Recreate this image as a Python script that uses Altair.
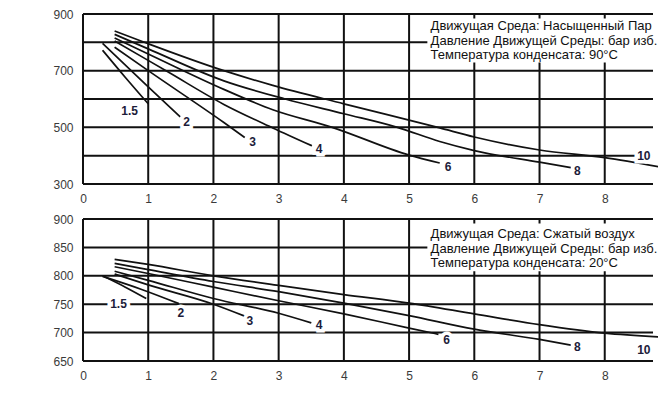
import altair as alt
import pandas as pd

FONT = "Liberation Sans"
XMAX = 8.74

# ---------------- Top panel: saturated steam, condensate 90°C ----------------
steam_curves = ["1.5", "2", "3", "4", "6", "8", "10"]
steam_x = {
    "1.5": [0.30, 0.65, 1.00],
    "2":   [0.30, 1.00, 1.49],
    "3":   [0.485, 1.00, 2.16, 2.48],
    "4":   [0.485, 1.30, 2.16, 2.91, 3.51],
    "6":   [0.485, 1.00, 2.16, 2.91, 3.82, 5.00, 5.47],
    "8":   [0.485, 1.00, 2.16, 3.10, 4.00, 4.82, 5.47, 6.00, 7.00, 7.48],
    "10":  [0.485, 1.00, 2.16, 2.91, 4.00, 5.47, 6.00, 7.00, 8.00, 8.89],
}
steam_y = {
    "1.5": [772, 676, 583],
    "2":   [796, 643, 537],
    "3":   [783, 700, 517, 464],
    "4":   [805, 696, 581, 498, 435],
    "6":   [815, 759, 634, 562, 500, 402, 374],
    "8":   [828, 777, 664, 600, 548, 500, 450, 418, 377, 358],
    "10":  [840, 795, 700, 648, 583, 498, 466, 420, 393, 358],
}
steam_label_x = [0.715, 1.59, 2.60, 3.62, 5.60, 7.58, 8.60]
steam_label_y = [557, 520, 449, 422, 360, 347, 400]
steam_text = ["Движущая Среда: Насыщенный Пар",
              "Давление Движущей Среды: бар изб.",
              "Температура конденсата: 90°C"]
steam_text_y = [858, 806, 755]
steam_box = [5.28, XMAX, 884, 729]
steam_y_ticks = [300, 400, 500, 600, 700, 800, 900]

# ---------------- Bottom panel: compressed air, condensate 20°C ----------------
air_curves = ["1.5", "2", "3", "4", "6", "8", "10"]
air_x = {
    "1.5": [0.30, 0.65, 0.97],
    "2":   [0.30, 0.90, 1.47],
    "3":   [0.485, 1.00, 2.00, 2.48],
    "4":   [0.485, 1.00, 2.00, 3.00, 3.50],
    "6":   [0.485, 1.00, 2.00, 3.00, 4.00, 5.00, 5.45],
    "8":   [0.485, 1.00, 2.00, 3.00, 4.00, 5.00, 6.00, 7.00, 7.48],
    "10":  [0.485, 1.00, 2.00, 3.00, 4.00, 5.00, 6.00, 7.00, 8.00, 8.89],
}
air_y = {
    "1.5": [800, 780, 760],
    "2":   [799, 776, 751],
    "3":   [803, 784, 750, 729],
    "4":   [808, 792, 760, 734, 717],
    "6":   [816, 804, 780, 756, 733, 708, 697],
    "8":   [822, 811, 790, 772, 752, 730, 706, 688, 678],
    "10":  [829, 820, 800, 783, 767, 752, 733, 714, 699, 692],
}
air_label_x = [0.545, 1.50, 2.56, 3.62, 5.575, 7.58, 8.60]
air_label_y = [750, 735, 720, 713, 687, 674, 669]
air_text = ["Движущая Среда: Сжатый воздух",
            "Давление Движущей Среды: бар изб.",
            "Температура конденсата: 20°C"]
air_text_y = [874, 847, 822]
air_box = [5.28, XMAX, 892, 808]
air_y_ticks = [650, 700, 750, 800, 850, 900]

x_ticks = [0, 1, 2, 3, 4, 5, 6, 7, 8]
ann_x = 5.33

GRID = "#111111"


def panel(curves, xs, ys, lx, ly, texts, text_y, box, yticks, height, label_expr):
    rows = []
    for c in curves:
        for xv, yv in zip(xs[c], ys[c]):
            rows.append({"x": xv, "y": yv, "curve": c})
    df = pd.DataFrame(rows)
    lab = pd.DataFrame({"x": lx, "y": ly, "t": curves})
    ann = pd.DataFrame({"x": [ann_x] * len(texts), "y": text_y, "t": texts})
    rect = pd.DataFrame({"x": [box[0]], "x2": [box[1]], "y": [box[2]], "y2": [box[3]]})
    ymin, ymax = min(yticks), max(yticks)
    vg = pd.DataFrame({"x": x_ticks, "y": [ymax] * len(x_ticks), "y2": [ymin] * len(x_ticks)})
    hg = pd.DataFrame({"y": yticks, "x": [0] * len(yticks), "x2": [XMAX] * len(yticks)})

    xscale = alt.Scale(domain=[0, XMAX], nice=False, zero=False)
    yscale = alt.Scale(domain=[ymin, ymax], nice=False, zero=False)
    xaxis = alt.Axis(values=x_ticks, title=None, labelFlush=True, format="d",
                     labelPadding=4, labelOverlap=False, grid=False)
    yaxis = alt.Axis(values=yticks, title=None, labelPadding=5, labelFlush=False,
                     format="d", labelOverlap=False, labelExpr=label_expr, grid=False)
    X = alt.X("x:Q", scale=xscale, axis=xaxis)
    Y = alt.Y("y:Q", scale=yscale, axis=yaxis)

    vgrid = alt.Chart(vg).mark_bar(color=GRID, size=2, orient="vertical").encode(
        x=X, y=Y, y2="y2:Q")
    hgrid = alt.Chart(hg).mark_bar(color=GRID, size=2, orient="horizontal").encode(
        y=Y, x=X, x2="x2:Q")
    box_mark = alt.Chart(rect).mark_rect(color="white").encode(
        x=X, x2="x2:Q", y=Y, y2="y2:Q")
    lines = alt.Chart(df).mark_line(color="#111111", strokeWidth=1.7,
                                    interpolate="monotone", clip=True).encode(
        x=X, y=Y, detail="curve:N", order="x:Q",
    )
    halo = alt.Chart(lab).mark_text(font=FONT, fontSize=12, fontWeight="bold",
                                    stroke="white", strokeWidth=7, color="white").encode(
        x=X, y=Y, text="t:N")
    labels = alt.Chart(lab).mark_text(font=FONT, fontSize=12, fontWeight="bold",
                                      color="#1c1c3a").encode(
        x=X, y=Y, text="t:N")
    annot = alt.Chart(ann).mark_text(font=FONT, fontSize=13, align="left",
                                     baseline="middle", color="#111111").encode(
        x=X, y=Y, text="t:N")
    return alt.layer(vgrid, hgrid, box_mark, lines, halo, labels, annot).properties(
        width=580, height=height)


top = panel(steam_curves, steam_x, steam_y, steam_label_x, steam_label_y,
            steam_text, steam_text_y, steam_box, steam_y_ticks, 180,
            "datum.value % 200 == 100 ? datum.label : ''")
bottom = panel(air_curves, air_x, air_y, air_label_x, air_label_y,
               air_text, air_text_y, air_box, air_y_ticks, 152,
               "datum.label")

chart = alt.vconcat(top, bottom, spacing=25, bounds="flush").properties(
    padding={"left": 44, "top": 0, "right": 0, "bottom": 0},
    background="white",
).configure_view(strokeWidth=0).configure_axis(
    domain=False, ticks=False, grid=False,
    labelFont=FONT, labelFontSize=12, labelColor="#3a3a3a",
)

chart.save("out.html", embed_options={"renderer": "svg", "actions": False})
